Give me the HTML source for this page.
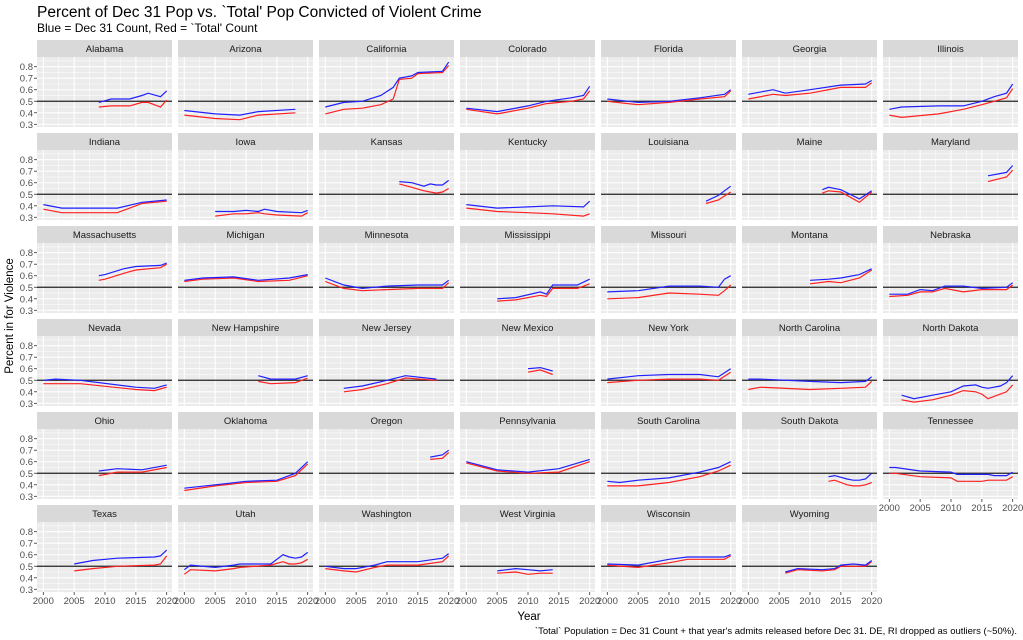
<!DOCTYPE html>
<html><head><meta charset="utf-8"><style>
body{margin:0;background:#fff;}
svg{display:block;font-family:"Liberation Sans",sans-serif;}
</style></head><body>
<svg id="s" width="1023" height="640" xmlns="http://www.w3.org/2000/svg">
<text x="37" y="17" font-size="15.5" fill="#000">Percent of Dec 31 Pop vs. `Total' Pop Convicted of Violent Crime</text>
<text x="37" y="32" font-size="12" fill="#000">Blue = Dec 31 Count, Red = `Total' Count</text>
<text x="529" y="620" font-size="11.5" text-anchor="middle" fill="#000">Year</text>
<text transform="translate(13,316) rotate(-90)" font-size="11.5" text-anchor="middle" fill="#000">Percent in for Violence</text>
<text x="1017" y="634" font-size="9.5" text-anchor="end" fill="#000">`Total` Population = Dec 31 Count + that year's admits released before Dec 31. DE, RI dropped as outliers (~50%).</text>
<g id="g"></g>
</svg>
<script>
const D=[
["Alabama",[[2009,.49,.45],[2011,.52,.46],[2014,.52,.46],[2016,.55,.49],[2017,.57,.49],[2019,.54,.45],[2020,.59,.51]]],
["Arizona",[[2000,.42,.38],[2005,.39,.35],[2009,.38,.34],[2012,.41,.38],[2018,.43,.40]]],
["California",[[2000,.45,.39],[2003,.49,.43],[2006,.50,.44],[2009,.55,.47],[2011,.62,.52],[2012,.70,.69],[2014,.72,.70],[2015,.75,.74],[2019,.76,.75],[2020,.84,.81]]],
["Colorado",[[2000,.44,.43],[2005,.41,.39],[2010,.46,.44],[2013,.50,.48],[2017,.53,.50],[2019,.55,.52],[2020,.63,.59]]],
["Florida",[[2000,.52,.50],[2005,.49,.47],[2010,.50,.49],[2015,.53,.52],[2019,.56,.54],[2020,.60,.59]]],
["Georgia",[[2000,.56,.52],[2004,.60,.56],[2006,.57,.55],[2010,.60,.57],[2015,.64,.62],[2019,.65,.62],[2020,.68,.66]]],
["Illinois",[[2000,.43,.38],[2002,.45,.36],[2008,.46,.39],[2012,.46,.43],[2015,.50,.47],[2017,.54,.50],[2019,.57,.53],[2020,.65,.61]]],
["Indiana",[[2000,.41,.37],[2003,.38,.34],[2012,.38,.34],[2016,.43,.42],[2020,.45,.44]]],
["Iowa",[[2005,.35,.31],[2008,.35,.33],[2010,.36,.33],[2012,.35,.34],[2013,.37,.33],[2015,.35,.32],[2019,.34,.31],[2020,.36,.34]]],
["Kansas",[[2012,.61,.59],[2014,.60,.56],[2016,.57,.53],[2017,.59,.52],[2018,.58,.51],[2019,.58,.52],[2020,.62,.55]]],
["Kentucky",[[2000,.41,.38],[2005,.38,.35],[2010,.39,.34],[2014,.40,.33],[2019,.39,.31],[2020,.44,.33]]],
["Louisiana",[[2016,.44,.42],[2018,.49,.45],[2020,.57,.52]]],
["Maine",[[2012,.54,.51],[2013,.56,.53],[2015,.54,.52],[2018,.46,.43],[2020,.53,.52]]],
["Maryland",[[2016,.66,.61],[2019,.69,.65],[2020,.75,.71]]],
["Massachusetts",[[2009,.60,.56],[2010,.61,.57],[2013,.66,.62],[2015,.68,.65],[2019,.69,.67],[2020,.71,.70]]],
["Michigan",[[2000,.56,.55],[2003,.58,.57],[2008,.59,.58],[2012,.56,.55],[2017,.58,.56],[2020,.61,.60]]],
["Minnesota",[[2000,.58,.55],[2003,.52,.49],[2006,.49,.47],[2010,.51,.48],[2015,.52,.49],[2019,.52,.49],[2020,.56,.54]]],
["Mississippi",[[2005,.40,.38],[2008,.41,.39],[2012,.46,.43],[2013,.44,.42],[2014,.52,.49],[2018,.52,.49],[2020,.57,.53]]],
["Missouri",[[2000,.46,.40],[2005,.47,.41],[2010,.51,.45],[2015,.51,.44],[2018,.50,.43],[2019,.57,.47],[2020,.60,.52]]],
["Montana",[[2010,.56,.53],[2013,.57,.55],[2015,.58,.54],[2018,.61,.58],[2020,.66,.65]]],
["Nebraska",[[2000,.44,.42],[2003,.44,.43],[2005,.48,.46],[2007,.47,.46],[2009,.51,.49],[2012,.51,.46],[2015,.49,.48],[2019,.50,.48],[2020,.54,.52]]],
["Nevada",[[2000,.50,.47],[2002,.51,.47],[2006,.50,.47],[2015,.44,.42],[2018,.43,.41],[2020,.46,.44]]],
["New Hampshire",[[2012,.54,.49],[2014,.51,.47],[2018,.51,.48],[2020,.54,.52]]],
["New Jersey",[[2003,.43,.40],[2006,.45,.42],[2010,.50,.47],[2013,.54,.52],[2018,.51,.50]]],
["New Mexico",[[2010,.60,.57],[2012,.61,.59],[2014,.58,.55]]],
["New York",[[2000,.51,.48],[2005,.54,.50],[2010,.55,.51],[2015,.55,.51],[2018,.53,.50],[2020,.60,.57]]],
["North Carolina",[[2000,.51,.42],[2002,.51,.44],[2010,.49,.42],[2015,.48,.43],[2019,.49,.44],[2020,.53,.49]]],
["North Dakota",[[2002,.37,.33],[2004,.34,.31],[2007,.37,.33],[2010,.40,.37],[2012,.45,.41],[2014,.46,.40],[2015,.44,.38],[2016,.43,.34],[2018,.45,.38],[2019,.48,.40],[2020,.54,.46]]],
["Ohio",[[2009,.52,.48],[2012,.54,.51],[2016,.53,.51],[2020,.57,.55]]],
["Oklahoma",[[2000,.37,.35],[2005,.40,.39],[2010,.43,.42],[2015,.44,.43],[2018,.50,.48],[2020,.60,.58]]],
["Oregon",[[2017,.64,.62],[2019,.66,.63],[2020,.70,.68]]],
["Pennsylvania",[[2000,.60,.59],[2005,.53,.52],[2010,.51,.50],[2015,.54,.51],[2020,.62,.60]]],
["South Carolina",[[2000,.43,.39],[2002,.42,.39],[2005,.44,.39],[2010,.46,.42],[2015,.51,.47],[2018,.55,.52],[2020,.60,.57]]],
["South Dakota",[[2013,.47,.43],[2014,.48,.44],[2016,.45,.40],[2017,.44,.39],[2018,.44,.39],[2019,.45,.40],[2020,.50,.42]]],
["Tennessee",[[2000,.55,.50],[2001,.55,.50],[2005,.52,.47],[2010,.51,.46],[2011,.49,.43],[2015,.49,.43],[2016,.49,.44],[2017,.48,.44],[2019,.48,.44],[2020,.51,.47]]],
["Texas",[[2005,.52,.46],[2008,.55,.48],[2012,.57,.50],[2018,.58,.51],[2019,.59,.52],[2020,.64,.59]]],
["Utah",[[2000,.47,.43],[2001,.51,.47],[2005,.49,.46],[2008,.51,.48],[2009,.52,.49],[2014,.52,.51],[2016,.60,.54],[2017,.58,.52],[2018,.57,.52],[2019,.58,.53],[2020,.62,.56]]],
["Washington",[[2000,.50,.48],[2003,.48,.46],[2005,.48,.45],[2008,.51,.49],[2010,.54,.51],[2015,.54,.51],[2019,.57,.54],[2020,.61,.59]]],
["West Virginia",[[2005,.46,.44],[2008,.48,.45],[2010,.47,.43],[2012,.46,.44],[2014,.47,.44]]],
["Wisconsin",[[2000,.52,.51],[2005,.51,.49],[2010,.56,.53],[2013,.58,.56],[2015,.58,.56],[2019,.58,.56],[2020,.60,.59]]],
["Wyoming",[[2006,.45,.44],[2008,.48,.47],[2012,.47,.46],[2014,.48,.47],[2015,.51,.50],[2017,.52,.50],[2019,.51,.50],[2020,.55,.54]]]
];
let h='';
const PW=135,PH=70,SH=17;
D.forEach((d,i)=>{
 const c=i%7,r=Math.floor(i/7);
 const x0=37+c*141, sy=40+r*93, y0=sy+SH;
 const X=yr=>x0+6.3+(yr-2000)*6.17;
 const Y=v=>y0+67.3-(v-0.3)*115.2;
 h+=`<rect x="${x0}" y="${sy}" width="${PW}" height="${SH}" fill="#d9d9d9"/>`;
 h+=`<text x="${x0+PW/2}" y="${sy+12}" font-size="9.5" text-anchor="middle" fill="#1a1a1a">${d[0]}</text>`;
 h+=`<rect x="${x0}" y="${y0}" width="${PW}" height="${PH}" fill="#ebebeb"/>`;
 for(let v=0.25;v<0.9;v+=0.05){const yy=Y(v);if(yy<y0||yy>y0+PH)continue;const maj=Math.abs(v*10-Math.round(v*10))<0.01;
  h+=`<line x1="${x0}" x2="${x0+PW}" y1="${yy}" y2="${yy}" stroke="#fff" stroke-width="${maj?1.1:0.5}"/>`;}
 for(let yr=2000;yr<=2020;yr+=2.5){const xx=X(yr);const maj=yr%5==0;
  h+=`<line x1="${xx}" x2="${xx}" y1="${y0}" y2="${y0+PH}" stroke="#fff" stroke-width="${maj?1.1:0.5}"/>`;}
 h+=`<line x1="${x0}" x2="${x0+PW}" y1="${Y(.5)}" y2="${Y(.5)}" stroke="#222" stroke-width="1.2"/>`;
 const k=d[1];
 [[2,'#ff2020'],[1,'#2020ff']].forEach(([j,col])=>{
  h+=`<polyline fill="none" stroke="${col}" stroke-width="1.2" points="${k.map(p=>X(p[0]).toFixed(1)+','+Y(p[j]).toFixed(1)).join(' ')}"/>`;});
 if(c==0){for(let v=3;v<=8;v++){const yy=Y(v/10);
  h+=`<line x1="${x0-3}" x2="${x0}" y1="${yy}" y2="${yy}" stroke="#333" stroke-width="0.8"/>`;
  h+=`<text x="${x0-4}" y="${yy+3.5}" font-size="9.5" text-anchor="end" fill="#4d4d4d">0.${v}</text>`;}}
 if(r==5||i==34){for(let yr=2000;yr<=2020;yr+=5){const xx=X(yr);
  h+=`<line x1="${xx}" x2="${xx}" y1="${y0+PH}" y2="${y0+PH+3}" stroke="#333" stroke-width="0.8"/>`;
  h+=`<text x="${xx}" y="${y0+PH+12}" font-size="9.5" text-anchor="middle" fill="#4d4d4d">${yr}</text>`;}}
});
document.getElementById('g').innerHTML=h;
</script>
</body></html>
